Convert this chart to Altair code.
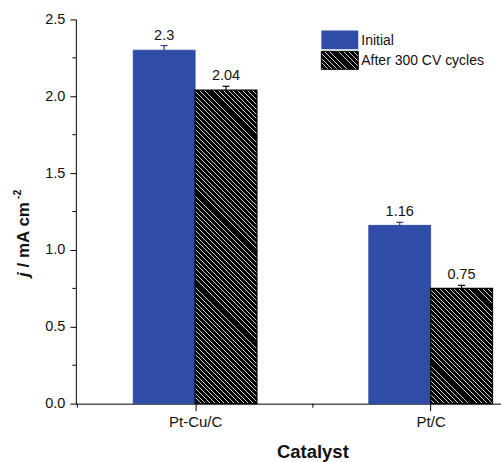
import math
import altair as alt
import pandas as pd

# ---------------- data ----------------
catalysts = ["Pt-Cu/C", "Pt/C"]
positions = [1, 2]
initial = [2.30, 1.16]
after = [2.04, 0.75]
initial_err = [0.03, 0.02]
after_err = [0.025, 0.02]
initial_labels = ["2.3", "1.16"]
after_labels = ["2.04", "0.75"]
series_names = ["Initial", "After 300 CV cycles"]
x_major_ticks = [1, 2]
x_minor_ticks = [0.5, 1.5]
y_major_ticks = [0, 0.5, 1.0, 1.5, 2.0, 2.5]
y_minor_ticks = [0.25, 0.75, 1.25, 1.75, 2.25]

# ---------------- styling ----------------
FONT = "Liberation Sans"
BLUE = "#2F4DA6"
LEFT, TOP = 76, 19
W, H = 426, 385
PX_PER_X = 236.0
XDOM = [1 - (195.5 - LEFT) / PX_PER_X, 1 - (195.5 - LEFT) / PX_PER_X + W / PX_PER_X]
YDOM = [0, 2.5]
BW = 62 / PX_PER_X           # bar width in data units
CAP = 3.5 / PX_PER_X         # half cap width


def hatch(w, h, period=4.8, white_frac=0.2):
    """Diagonal '\\' hatch via a linear gradient with hard stops."""
    r = w / h
    s = (1 + r) / (1 + r * r)
    n_per = (w + h) / period
    stops = []
    n = int(math.ceil(n_per))
    for i in range(n):
        a = min(1.0, i / n_per)
        b = min(1.0, (i + white_frac) / n_per)
        c = min(1.0, (i + 1) / n_per)
        stops += [
            {"offset": a, "color": "#d2d2d2"},
            {"offset": b, "color": "#d2d2d2"},
            {"offset": b, "color": "#000000"},
            {"offset": c, "color": "#000000"},
        ]
    return {"gradient": "linear", "x1": 1, "y1": 0,
            "x2": 1 - r * s, "y2": s, "stops": stops}


rows = []
for i, cat in enumerate(catalysts):
    p = positions[i]
    rows.append(dict(catalyst=cat, series=series_names[0], x0=p - BW, x1=p,
                     xc=p - BW / 2, value=initial[i], err=initial_err[i],
                     label=initial_labels[i], ecolor="#2a3f8f"))
    rows.append(dict(catalyst=cat, series=series_names[1], x0=p, x1=p + BW,
                     xc=p + BW / 2, value=after[i], err=after_err[i],
                     label=after_labels[i], ecolor="#000000"))
df = pd.DataFrame(rows)
df["zero"] = 0.0
df["top"] = df["value"] + df["err"]
df["cl"] = df["xc"] - CAP
df["cr"] = df["xc"] + CAP

xscale = alt.Scale(domain=XDOM, nice=False, zero=False)
yscale = alt.Scale(domain=YDOM, nice=False)

x_axis = alt.Axis(
    values=x_major_ticks, title="Catalyst",
    labelExpr="datum.value == 1 ? 'Pt-Cu/C' : 'Pt/C'",
    tickSize=7, labelPadding=4, labelFont=FONT, labelFontSize=15, labelColor="#111",
    titleFont=FONT, titleFontSize=18.5, titleFontWeight="bold", titleColor="#111",
    titleX=313 - LEFT, titleY=54, titleBaseline="alphabetic", titleAnchor="start",
    titleAlign="center",
    domainColor="#000", tickColor="#000", grid=False,
)
y_axis = alt.Axis(
    values=y_major_ticks, title=None, format=".1f",
    tickSize=6, labelPadding=5, labelFont=FONT, labelFontSize=14.5, labelColor="#111",
    domainColor="#000", tickColor="#000", grid=False,
)


def X(field):
    return alt.X(field, type="quantitative", scale=xscale, axis=x_axis)


def Y(field):
    return alt.Y(field, type="quantitative", scale=yscale, axis=y_axis)


base = alt.Chart(df)

blue_bars = base.transform_filter(alt.datum.series == series_names[0]).mark_rect(
    fill=BLUE, stroke="#2a4496", strokeWidth=0.8
).encode(x=X("x0"), x2="x1:Q", y=Y("value"), y2="zero:Q")

hatch_layers = []
for i, cat in enumerate(catalysts):
    h_px = after[i] / (YDOM[1] - YDOM[0]) * H
    hatch_layers.append(
        base.transform_filter(
            (alt.datum.series == series_names[1]) & (alt.datum.catalyst == cat)
        ).mark_rect(fill=hatch(62, h_px), stroke="#000", strokeWidth=1.2).encode(
            x=X("x0"), x2="x1:Q", y=Y("value"), y2="zero:Q"
        )
    )

err_rule = base.mark_rule(strokeWidth=1.2).encode(
    x=X("xc"), y=Y("value"), y2="top:Q",
    color=alt.Color("ecolor:N", scale=None),
)
err_cap = base.mark_rule(strokeWidth=1.2).encode(
    x=X("cl"), x2="cr:Q", y=Y("top"),
    color=alt.Color("ecolor:N", scale=None),
)
value_text = base.mark_text(
    baseline="bottom", dy=-3, font=FONT, fontSize=14.5, color="#111"
).encode(x=X("xc"), y=Y("top"), text="label:N")

# minor ticks
y_minor = alt.Chart(pd.DataFrame({"v": y_minor_ticks})).mark_rule(
    color="#000", strokeWidth=1
).encode(y=Y("v"), x=alt.value(-3.5), x2=alt.value(0))
x_minor = alt.Chart(pd.DataFrame({"v": x_minor_ticks})).mark_rule(
    color="#000", strokeWidth=1
).encode(x=X("v"), y=alt.value(H), y2=alt.value(H + 4))

one = alt.Data(values=[{}])
legend_blue = alt.Chart(one).mark_rect(fill=BLUE).encode(
    x=alt.value(322 - LEFT), x2=alt.value(359 - LEFT),
    y=alt.value(30 - TOP), y2=alt.value(49 - TOP)
)
legend_hatch = alt.Chart(one).mark_rect(
    fill=hatch(37, 18), stroke="#000", strokeWidth=1
).encode(x=alt.value(322 - LEFT), x2=alt.value(359 - LEFT),
         y=alt.value(51 - TOP), y2=alt.value(69 - TOP))
legend_t1 = alt.Chart(one).mark_text(
    align="left", baseline="alphabetic", font=FONT, fontSize=14, color="#111"
).encode(x=alt.value(362 - LEFT), y=alt.value(45 - TOP), text=alt.value(series_names[0]))
legend_t2 = alt.Chart(one).mark_text(
    align="left", baseline="alphabetic", font=FONT, fontSize=14, color="#111"
).encode(x=alt.value(362 - LEFT), y=alt.value(65 - TOP), text=alt.value(series_names[1]))

# y-axis title: "j / mA cm-2" with italic j and superscript
TFS = 17
yt_j = alt.Chart(one).mark_text(
    angle=270, align="left", baseline="alphabetic", font=FONT, fontSize=TFS,
    fontWeight="bold", fontStyle="italic", color="#111"
).encode(x=alt.value(29 - LEFT), y=alt.value(277 - TOP), text=alt.value("j"))
yt_rest = alt.Chart(one).mark_text(
    angle=270, align="left", baseline="alphabetic", font=FONT, fontSize=TFS,
    fontWeight="bold", color="#111"
).encode(x=alt.value(29 - LEFT), y=alt.value(267.5 - TOP), text=alt.value("/ mA cm"))
yt_sup = alt.Chart(one).mark_text(
    angle=270, align="left", baseline="alphabetic", font=FONT, fontSize=10.5,
    fontWeight="bold", color="#111"
).encode(x=alt.value(21 - LEFT), y=alt.value(199 - TOP), text=alt.value("-2"))

chart = alt.layer(
    blue_bars, *hatch_layers, err_rule, err_cap, value_text, y_minor, x_minor,
    legend_blue, legend_hatch, legend_t1, legend_t2, yt_j, yt_rest, yt_sup,
).properties(
    width=W, height=H,
    autosize=alt.AutoSizeParams(type="none"),
    padding={"left": LEFT, "top": TOP, "right": 0, "bottom": 462 - TOP - H},
).configure_view(stroke=None)

chart.save("out.html", embed_options={"renderer": "svg", "actions": False})
